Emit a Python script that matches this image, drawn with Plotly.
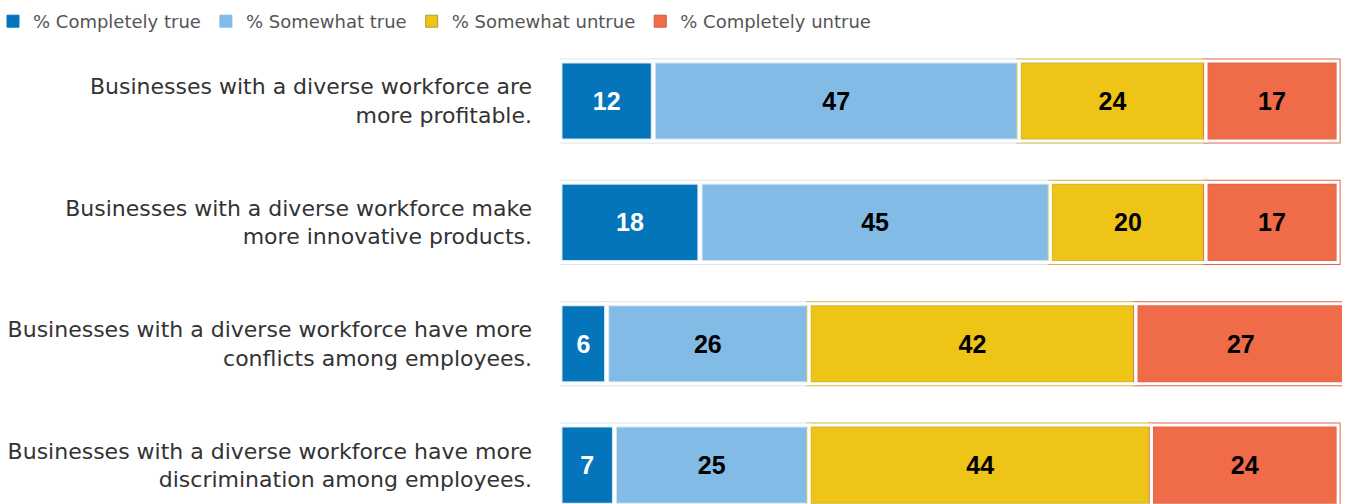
import plotly.graph_objects as go

# Survey statements (top to bottom) and response shares in percent
statements = [
    "Businesses with a diverse workforce are<br>more profitable.",
    "Businesses with a diverse workforce make<br>more innovative products.",
    "Businesses with a diverse workforce have more<br>conflicts among employees.",
    "Businesses with a diverse workforce have more<br>discrimination among employees.",
]
series_names = ["% Completely true", "% Somewhat true", "% Somewhat untrue", "% Completely untrue"]
completely_true = [12, 18, 6, 7]
somewhat_true = [47, 45, 26, 25]
somewhat_untrue = [24, 20, 42, 44]
completely_untrue = [17, 17, 27, 24]

fill_colors = ["#0474BB", "#82BCE6", "#EEC416", "#F06B48"]
edge_colors = ["#D5E5F4", "#D5E5F4", "#D2B43A", "#DE684B"]
legend_edges = ["#0474BB", "#82BCE6", "#B09A3C", "#C95A40"]
text_colors = ["white", "black", "black", "black"]

series_values = [completely_true, somewhat_true, somewhat_untrue, completely_untrue]
y_idx = list(range(len(statements)))

PLOT_L, PLOT_R = 560, 5
PLOT_W = 1347 - PLOT_L - PLOT_R

fig = go.Figure()

# running left edge of each segment
bases = [[0] * len(statements)]
for vals in series_values[:-1]:
    bases.append([b + v for b, v in zip(bases[-1], vals)])

BAR_W = 0.66
for vals, base, fc, ec, tc in zip(series_values, bases, fill_colors, edge_colors, text_colors):
    fig.add_trace(go.Bar(
        orientation="h", y=y_idx, x=vals, base=base, width=BAR_W,
        marker=dict(color=fc, line=dict(color=ec, width=5)),
        text=vals, texttemplate="%{x}", textposition="inside",
        insidetextanchor="middle", textangle=0, constraintext="none",
        textfont=dict(family="Liberation Sans", size=25, color=tc, weight="bold"),
        showlegend=False, hoverinfo="skip",
    ))

# white strokes that open small gaps between neighbouring segments
for vals, base in zip(series_values, bases):
    fig.add_trace(go.Bar(
        orientation="h", y=y_idx, x=vals, base=base, width=BAR_W,
        marker=dict(color="rgba(0,0,0,0)", line=dict(color="white", width=3)),
        showlegend=False, hoverinfo="skip",
    ))

# legend entries
for name, fc, lc in zip(series_names, fill_colors, legend_edges):
    fig.add_trace(go.Bar(
        name=name, orientation="h", x=[None], y=[None],
        marker=dict(color=fc, line=dict(color=lc, width=1)),
        hoverinfo="skip",
    ))

fig.update_layout(
    width=1347, height=504,
    barmode="overlay",
    paper_bgcolor="white", plot_bgcolor="white",
    margin=dict(l=PLOT_L, r=PLOT_R, t=40, b=0, autoexpand=False),
    font=dict(family="DejaVu Sans", color="#333333"),
    showlegend=True,
    legend=dict(
        orientation="h", x=-(PLOT_L + 7) / PLOT_W, xanchor="left",
        y=1, yanchor="bottom",
        font=dict(family="DejaVu Sans", size=18, color="#555555"), traceorder="normal",
        bgcolor="rgba(0,0,0,0)",
    ),
    xaxis=dict(range=[0, 100.5], visible=False, fixedrange=True),
    yaxis=dict(
        tickmode="array", tickvals=y_idx, ticktext=statements,
        range=[3.32, -0.503], showgrid=False, zeroline=False, showline=False,
        ticks="", ticklabelstandoff=27, automargin=False,
        tickfont=dict(size=22, color="#333333", family="DejaVu Sans"),
    ),
)

fig.write_html("out.html")
